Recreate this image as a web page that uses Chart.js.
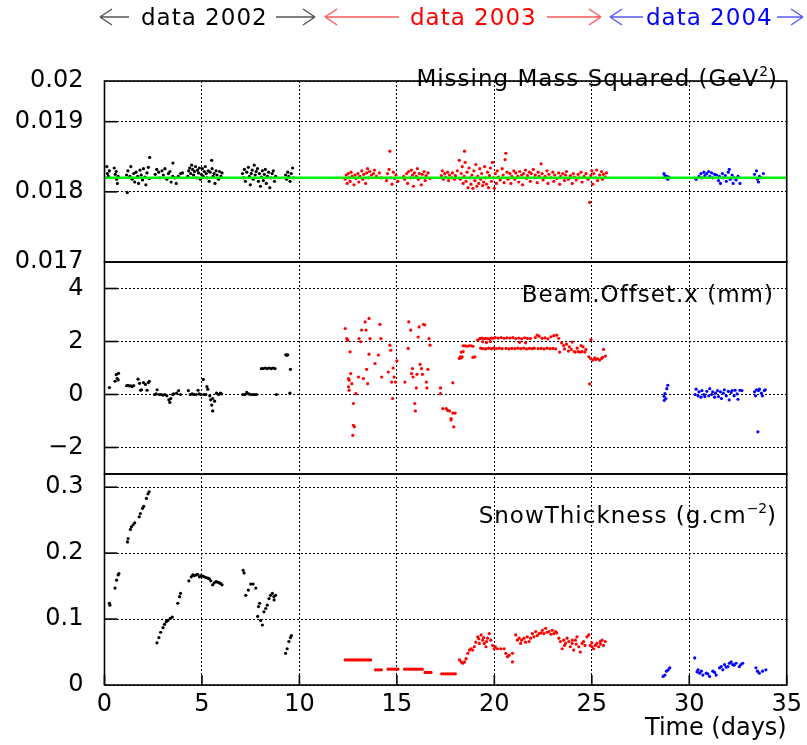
<!DOCTYPE html>
<html><head><meta charset="utf-8">
<script src="https://cdn.jsdelivr.net/npm/chart.js@4/dist/chart.umd.min.js"></script>
<style>
html,body{margin:0;padding:0;background:#fff;}
#wrap{position:relative;width:807px;height:745px;overflow:hidden;font-family:"DejaVu Sans",sans-serif;background:#fff;}
canvas{position:absolute;left:0;top:0;}
svg{position:absolute;left:0;top:0;}
.t{position:absolute;font-size:23px;letter-spacing:1px;line-height:28px;white-space:nowrap;}
.r{text-align:right;}
sup{font-size:0.6em;line-height:0;vertical-align:0.75em;letter-spacing:0;}
</style></head><body>
<div id="wrap">
<canvas id="c" width="807" height="745"></canvas>
<svg width="807" height="40">
  <g fill="none" stroke-width="1.5">
    <g stroke="#555"><path d="M100 17 H129 M100 17 L112 9 M100 17 L112 25"/><path d="M276 17 H315 M315 17 L303 9 M315 17 L303 25"/></g>
    <g stroke="#ff5a5a"><path d="M325 17 H399 M325 17 L337 9 M325 17 L337 25"/><path d="M547 17 H601 M601 17 L589 9 M601 17 L589 25"/></g>
    <g stroke="#5a5aff"><path d="M610 17 H643 M610 17 L622 9 M610 17 L622 25"/><path d="M777 17 H803 M803 17 L791 9 M803 17 L791 25"/></g>
  </g>
</svg>
<div class="t" style="left:141px;top:3px;color:#000">data 2002</div>
<div class="t" style="left:410px;top:3px;color:#f00">data 2003</div>
<div class="t" style="left:646px;top:3px;color:#00f">data 2004</div>
<div class="t r" style="right:29px;top:64px;color:#000">Missing Mass Squared (GeV<sup>2</sup>)</div>
<div class="t r" style="right:33px;top:280px;color:#000">Beam.Offset.x (mm)</div>
<div class="t r" style="right:30px;top:501px;color:#000">SnowThickness (g.cm<sup>−2</sup>)</div>
</div>
<script>
// ---------- data ----------
const xTicks = [0,5,10,15,20,25,30,35];
const mmTicks = [0.017,0.018,0.019,0.01958];
const mmTickLabels = ['0.017','0.018','0.019','0.02'];
const boTicks = [-2,0,2,4];
const boTickLabels = ['\u22122','0','2','4'];
const snTicks = [0,0.1,0.2,0.3];
const snTickLabels = ['0','0.1','0.2','0.3'];
const mmReference = 0.0182;

// Missing mass squared [day, GeV^2]
const mm2002 = [
[0.12,0.01836],[0.15,0.01826],[0.2,0.01822],[0.25,0.01830],[0.5,0.01834],[0.55,0.01825],[0.6,0.01829],[0.62,0.01818],[0.66,0.01812],[0.7,0.01822],
[1.17,0.01799],
[1.13,0.01824],[1.2,0.01830],[1.3,0.01822],[1.35,0.01836],[1.42,0.01818],[1.5,0.01826],[1.55,0.01814],[1.62,0.01828],[1.7,0.01822],[1.75,0.01812],[1.82,0.01831],[1.88,0.01824],[1.95,0.01817],[2.0,0.01833],[2.08,0.01821],[2.12,0.01810],[2.18,0.01827],[2.25,0.01835],[2.32,0.01849],[2.3,0.01819],
[2.6,0.01825],[2.68,0.01832],[2.78,0.01828],[2.85,0.01820],[2.95,0.01830],[3.02,0.01824],[3.1,0.01833],[3.2,0.01818],[3.28,0.01826],[3.36,0.01829],[3.42,0.01814],[3.5,0.01822],[3.51,0.01841],[3.6,0.01820],[3.68,0.01812],[3.78,0.01822],[3.9,0.01826],[4.0,0.01827],
[4.27,0.01822],[4.32,0.01830],[4.37,0.01834],[4.42,0.01826],[4.47,0.01838],[4.52,0.01832],[4.57,0.01824],[4.62,0.01829],[4.67,0.01836],[4.72,0.01820],[4.77,0.01831],[4.82,0.01827],[4.87,0.01834],[4.92,0.01818],[4.97,0.01825],[5.02,0.01833],[5.07,0.01822],[5.12,0.01829],[5.17,0.01836],[5.22,0.01826],[5.27,0.01820],[5.32,0.01830],[5.37,0.01815],[5.42,0.01828],[5.5,0.01845],[5.52,0.01833],[5.57,0.01822],[5.62,0.01826],[5.67,0.01812],[5.72,0.01830],[5.77,0.01824],[5.85,0.01818],[5.9,0.01829],[5.97,0.01822],[6.03,0.01827],
[7.08,0.01826],[7.13,0.01820],[7.18,0.01832],[7.23,0.01815],[7.3,0.01828],[7.38,0.01835],[7.43,0.01822],[7.48,0.01810],[7.53,0.01826],[7.58,0.01831],[7.63,0.01818],[7.68,0.01838],[7.73,0.01824],[7.78,0.01829],[7.85,0.01833],[7.9,0.01815],[7.95,0.01826],[8.0,0.01808],[8.05,0.01821],[8.1,0.01830],[8.15,0.01816],[8.2,0.01825],[8.25,0.01832],[8.3,0.01812],[8.36,0.01822],[8.42,0.01828],[8.48,0.01806],[8.54,0.01820],[8.6,0.01826],[8.66,0.01830],[8.72,0.01815],[8.78,0.01822],
[9.29,0.01824],[9.34,0.01818],[9.4,0.01828],[9.45,0.01822],[9.52,0.01815],[9.58,0.01826],[9.65,0.01834],[9.71,0.01820]
];
const mm2003 = [
[12.35,0.01818],[12.4,0.01824],[12.45,0.01812],[12.5,0.01826],[12.55,0.01820],[12.6,0.01815],[12.65,0.01828],[12.7,0.01822],[12.8,0.01810],[12.85,0.01824],[12.9,0.01819],[13.0,0.01826],[13.05,0.01814],[13.1,0.01822],[13.2,0.01830],[13.25,0.01818],[13.3,0.01825],[13.4,0.01812],[13.45,0.01827],[13.5,0.01833],[13.55,0.01820],[13.6,0.01829],[13.7,0.01824],[13.8,0.01826],[13.85,0.01831],[13.95,0.01822],[14.1,0.01827],[14.2,0.01820],
[14.47,0.01816],[14.52,0.01826],[14.64,0.01858],[14.6,0.01832],[14.68,0.01820],[14.75,0.01811],[14.82,0.01828],[14.88,0.01819],[14.95,0.01824],[15.05,0.01815],
[15.35,0.01822],[15.4,0.01818],[15.5,0.01826],[15.55,0.01812],[15.6,0.01829],[15.7,0.01820],[15.75,0.01831],[15.8,0.01824],[15.85,0.01808],[15.9,0.01827],[16.0,0.01822],[16.05,0.01833],[16.1,0.01818],[16.15,0.01826],[16.25,0.01810],[16.3,0.01825],[16.4,0.01829],[16.45,0.01816],[16.5,0.01823],[16.6,0.01827],[16.7,0.01819],
[17.28,0.01823],[17.33,0.01830],[17.38,0.01818],[17.45,0.01826],[17.5,0.01821],[17.6,0.01828],[17.65,0.01816],[17.7,0.01824],[17.8,0.01820],[17.85,0.01827],[17.95,0.01818],[18.0,0.01823],
[18.1,0.01830],[18.2,0.01845],[18.25,0.01818],[18.3,0.01826],[18.35,0.01836],[18.4,0.01812],[18.45,0.01822],[18.47,0.01858],[18.5,0.01842],[18.55,0.01815],[18.6,0.01828],[18.65,0.01806],[18.7,0.01834],[18.75,0.01820],[18.8,0.01811],[18.85,0.01824],[18.9,0.01805],[18.95,0.01830],[19.0,0.01816],[19.05,0.01839],[19.1,0.01808],[19.15,0.01822],[19.2,0.01812],[19.25,0.01833],[19.3,0.01818],[19.35,0.01826],[19.4,0.01809],[19.45,0.01814],[19.5,0.01836],[19.55,0.01820],[19.6,0.01811],[19.65,0.01828],[19.7,0.01806],[19.75,0.01823],[19.8,0.01834],[19.85,0.01815],[19.9,0.01842],[19.95,0.01820],[20.0,0.01805],[20.05,0.01826],[20.1,0.01812],[20.15,0.01830],[20.2,0.01821],[20.3,0.01817],[20.4,0.01833],[20.45,0.01824],[20.5,0.01813],[20.59,0.01855],[20.55,0.01846],[20.65,0.01828],[20.7,0.01818],[20.8,0.01826],[20.85,0.01812],[20.9,0.01822],[21.0,0.01830],
[21.05,0.01818],[21.1,0.01827],[21.2,0.01822],[21.25,0.01814],[21.3,0.01829],[21.4,0.01824],[21.45,0.01810],[21.5,0.01826],[21.6,0.01831],[21.65,0.01819],[21.7,0.01823],[21.8,0.01828],[21.85,0.01815],[21.9,0.01826],[22.0,0.01832],[22.05,0.01820],[22.1,0.01824],[22.2,0.01813],[22.25,0.01828],[22.3,0.01822],[22.4,0.01840],[22.45,0.01826],[22.5,0.01817],[22.6,0.01822],[22.7,0.01830],[22.75,0.01812],[22.8,0.01825],[22.9,0.01820],[23.0,0.01828],[23.05,0.01815],[23.1,0.01824],[23.2,0.01819],[23.3,0.01827],[23.35,0.01811],[23.4,0.01822],[23.5,0.01826],[23.6,0.01816],[23.65,0.01824],[23.7,0.01829],[23.8,0.01818],[23.9,0.01823],[24.0,0.01812],[24.05,0.01826],[24.1,0.01821],[24.2,0.01817],[24.3,0.01825],[24.35,0.01820],[24.45,0.01828],[24.5,0.01814],[24.6,0.01822],[24.7,0.01826],[24.8,0.01818],[24.89,0.01785],[24.95,0.01823],[25.0,0.01830],[25.05,0.01811],[25.1,0.01826],[25.2,0.01820],[25.25,0.01831],[25.3,0.01816],[25.4,0.01824],[25.5,0.01829],[25.55,0.01818],[25.6,0.01825],[25.7,0.01821],[25.75,0.01827]
];
const mm2004 = [
[28.7,0.01826],[28.75,0.01823],[28.8,0.01820],[28.85,0.01822],[28.9,0.01818],[28.95,0.01821],
[30.35,0.01818],[30.5,0.01822],[30.6,0.01826],[30.65,0.01820],[30.75,0.01828],[30.8,0.01823],[30.9,0.01826],[31.0,0.01829],[31.05,0.01822],[31.15,0.01827],[31.2,0.01820],[31.3,0.01825],[31.4,0.01824],[31.5,0.01816],[31.55,0.01822],[31.6,0.01812],[31.7,0.01826],[31.75,0.01820],[31.85,0.01823],[31.9,0.01815],[32.0,0.01828],[32.05,0.01832],[32.1,0.01818],[32.2,0.01824],[32.25,0.01812],[32.3,0.01820],[32.4,0.01817],[32.5,0.01822],[32.6,0.01812],
[33.35,0.01825],[33.45,0.01830],[33.5,0.01818],[33.55,0.01814],[33.6,0.01822],[33.7,0.01820],[33.8,0.01826]
];

// Beam offset x [day, mm]
const bo2002 = [
[0.25,0.26],[0.54,0.5],[0.6,0.75],[0.65,0.6],[0.72,0.8],[0.7,0.55],
[1.13,0.33],[1.2,0.35],[1.28,0.32],[1.35,0.33],[1.42,0.3],[1.5,0.34],
[1.72,0.58],[1.8,0.42],[1.85,0.16],[1.9,0.18],[2.0,0.45],[2.1,0.38],[2.18,0.16],[2.25,0.45],[2.3,0.5],
[2.57,0.0],[2.65,0.02],[2.7,0.18],[2.8,0.0],[2.9,0.0],[3.0,-0.02],[3.1,0.0],[3.2,-0.05],[3.3,-0.2],[3.35,-0.3],[3.4,-0.15],[3.5,0.0],[3.55,0.02],
[3.7,0.05],[3.8,0.15],[3.9,0.0],
[4.3,0.15],[4.4,0.0],[4.5,0.02],[4.6,0.0],[4.7,0.0],[4.8,0.16],[4.85,0.02],[4.95,0.0],[5.07,0.57],[5.1,0.0],[5.2,0.0],
[5.25,0.3],[5.3,0.2],[5.4,-0.05],[5.45,-0.2],[5.5,-0.4],[5.55,-0.15],[5.55,-0.62],[5.65,-0.25],[5.75,0.05],[5.85,0.0],[5.95,0.05],[6.0,0.02],
[7.1,0.0],[7.2,0.0],[7.3,0.08],[7.4,0.02],[7.5,0.0],[7.6,0.0],[7.7,0.0],[7.8,0.0],
[8.05,0.98],[8.15,0.98],[8.25,1.0],[8.35,0.98],[8.45,1.0],[8.55,0.98],[8.65,1.0],[8.75,0.98],
[8.82,0.0],[9.3,1.5],[9.35,1.48],[9.4,1.5],[9.54,0.95],[9.51,0.05]
];
const bo2003 = [
[12.35,2.49],[12.43,2.11],[12.48,2.05],[12.52,0.6],[12.55,0.54],[12.6,1.61],[12.63,0.79],[12.52,0.29],[12.55,0.16],[12.69,0.41],[12.77,-0.34],[12.77,-1.16],[12.82,-1.22],[12.74,-1.54],[12.89,0.03],
[13.03,0.66],[13.06,2.11],[13.14,1.99],[13.19,2.43],[13.28,0.6],[13.37,2.74],[13.42,2.43],[13.45,0.95],[13.5,0.41],[13.57,2.87],[13.62,2.11],[13.57,1.52],[13.88,1.17],[14.05,1.49],[14.13,2.65],[14.18,2.11],[14.22,0.66],
[14.56,0.85],[14.64,1.86],[14.69,1.67],[14.73,0.47],[14.78,-0.15],[14.81,1.0],[14.86,0.66],[14.93,0.47],[15.0,1.27],
[15.41,0.47],[15.58,1.74],[15.61,2.74],[15.71,2.43],[15.75,0.79],[15.8,0.98],[15.83,0.66],[15.92,-0.34],[15.95,-0.62],[16.0,0.25],[16.03,0.76],[16.09,2.17],[16.14,2.55],[16.19,1.14],[16.26,0.98],[16.31,0.76],[16.36,2.65],[16.43,2.63],[16.51,0.47],[16.54,0.25],[16.59,0.95],[16.65,2.11],[16.7,1.86],
[17.24,0.25],[17.24,0.03],[17.36,-0.53],[17.53,-0.53],[17.61,-0.6],[17.7,-0.62],[17.78,-0.96],[17.92,-1.22],[17.99,-0.7],[17.78,-0.91],[17.87,-0.7],[17.87,0.44],
[18.2,1.36],[18.25,1.42],[18.3,1.38],[18.35,1.42],[18.3,1.6],[18.4,1.62],
[18.4,1.84],[18.5,1.84],[18.6,1.82],[18.7,1.84],[18.8,1.84],[18.9,1.82],[18.9,1.4],[19.0,1.42],
[19.15,2.05],[19.25,2.11],[19.35,2.13],[19.45,2.1],[19.55,2.12],[19.65,2.11],[19.75,2.1],[19.85,2.13],[19.95,2.12],
[19.3,1.75],[19.4,1.73],[19.55,1.72],[19.7,1.75],[19.85,1.73],[19.95,1.75],[19.4,1.99],[19.6,1.96],[19.8,2.0],
[20.05,2.15],[20.2,2.13],[20.35,2.15],[20.5,2.12],[20.65,2.14],[20.8,2.13],[20.95,2.15],
[20.1,1.73],[20.25,1.75],[20.4,1.73],[20.6,1.74],[20.75,1.72],[20.9,1.74],
[21.1,2.11],[21.25,2.13],[21.4,2.1],[21.55,2.14],[21.7,2.12],[21.85,2.11],
[21.05,1.73],[21.2,1.75],[21.35,1.73],[21.5,1.75],[21.65,1.72],[21.8,1.74],[21.95,1.73],[21.3,1.97],[21.6,1.95],
[22.1,2.15],[22.2,2.24],[22.3,2.2],[22.45,2.12],[22.6,2.14],[22.75,2.1],[22.9,2.18],[23.05,2.22],[23.2,2.24],[23.3,2.12],
[22.05,1.75],[22.25,1.73],[22.4,1.74],[22.55,1.72],[22.7,1.75],[22.85,1.73],[23.0,1.74],[23.15,1.72],[23.35,1.6],
[23.45,1.95],[23.55,1.85],[23.6,1.72],[23.7,1.9],[23.8,1.64],[23.85,1.8],[23.95,1.7],[24.0,1.98],[24.1,1.62],[24.15,1.6],[24.25,1.75],[24.3,1.62],[24.4,1.6],[24.45,1.85],[24.5,1.62],[24.55,1.8],[24.65,1.6],[24.7,1.7],
[24.89,0.4],[24.96,2.07],
[24.85,1.42],[24.95,1.35],[25.05,1.3],[25.15,1.38],[25.2,1.32],[25.3,1.35],[25.4,1.3],[25.5,1.36],[25.55,1.4],[25.6,1.7],[25.7,1.45]
];
const bo2004 = [
[28.7,-0.07],[28.72,-0.22],[28.75,0.03],[28.8,-0.15],[28.85,0.22],[28.9,0.35],
[30.3,0.0],[30.35,0.2],[30.45,-0.05],[30.5,0.1],[30.6,-0.1],[30.65,0.15],[30.75,0.0],[30.8,-0.08],[30.9,0.12],[31.0,-0.05],[31.05,0.22],[31.15,0.0],[31.2,0.1],[31.3,-0.1],[31.35,0.05],[31.45,0.15],[31.5,-0.08],[31.6,0.1],[31.65,-0.15],[31.75,0.05],[31.8,0.18],[31.9,-0.05],[32.0,0.12],[32.05,-0.2],[32.15,0.08],[32.2,0.15],[32.3,-0.05],[32.35,0.16],[32.45,0.02],[32.5,-0.18],[32.6,0.16],[32.7,0.15],
[33.35,0.1],[33.4,-0.05],[33.45,0.18],[33.52,-1.41],[33.55,0.15],[33.6,0.2],[33.7,0.05],[33.75,-0.05],[33.85,0.15],[33.9,0.18]
];

// Snow thickness [day, g/cm^2]
const sn2002 = [
[0.25,0.124],[0.28,0.121],
[0.54,0.147],[0.62,0.159],[0.7,0.167],[0.74,0.169],
[1.18,0.217],[1.21,0.222],[1.33,0.236],[1.38,0.24],[1.47,0.243],[1.55,0.246],[1.78,0.255],[1.84,0.26],[1.95,0.268],[2.01,0.271],[2.15,0.283],[2.23,0.29],[2.29,0.293],
[2.69,0.064],[2.79,0.072],[2.88,0.08],[3.0,0.087],[3.08,0.092],[3.17,0.096],[3.25,0.098],[3.37,0.101],[3.48,0.103],
[3.76,0.124],[3.85,0.134],[3.9,0.139],
[4.33,0.158],[4.45,0.164],[4.53,0.167],[4.6,0.166],[4.7,0.167],[4.78,0.168],[4.87,0.164],[4.95,0.166],[5.04,0.165],[5.12,0.164],[5.21,0.163],[5.3,0.162],[5.38,0.161],[5.45,0.158],
[5.55,0.152],[5.63,0.155],[5.72,0.157],[5.8,0.156],[5.89,0.155],[5.95,0.154],[6.03,0.152],
[7.11,0.174],[7.16,0.17],[7.25,0.136],[7.38,0.144],[7.5,0.153],[7.62,0.153],[7.76,0.147],
[7.86,0.104],[7.9,0.119],[7.96,0.124],[8.01,0.098],[8.1,0.091],[8.18,0.111],[8.27,0.116],[8.35,0.121],[8.44,0.131],[8.52,0.136],[8.61,0.139],[8.69,0.134],[8.78,0.136],[8.7,0.129],
[9.29,0.048],[9.37,0.055],[9.46,0.066],[9.54,0.072],[9.59,0.075]
];
const sn2003 = [
[12.35,0.038],[12.45,0.038],[12.55,0.038],[12.65,0.038],[12.75,0.038],[12.85,0.038],[12.95,0.038],[13.05,0.038],[13.15,0.038],[13.25,0.038],[13.35,0.038],[13.45,0.038],[13.55,0.038],[13.65,0.038],
[13.9,0.023],[14.0,0.023],[14.1,0.023],[14.2,0.023],
[14.55,0.024],[14.65,0.024],[14.75,0.024],[14.85,0.024],[14.95,0.024],[15.05,0.024],
[15.4,0.024],[15.5,0.024],[15.6,0.024],[15.7,0.024],[15.8,0.024],[15.9,0.024],[16.0,0.024],[16.1,0.024],[16.2,0.024],[16.3,0.024],
[16.45,0.019],[16.55,0.019],[16.65,0.019],[16.75,0.019],
[17.3,0.017],[17.4,0.017],[17.5,0.017],[17.6,0.017],[17.7,0.017],[17.8,0.017],[17.9,0.017],[18.0,0.017],
[18.21,0.038],[18.3,0.035],[18.38,0.033],[18.47,0.035],[18.55,0.04],[18.64,0.048],[18.72,0.053],[18.8,0.055],[18.89,0.053],[18.97,0.058],[19.05,0.065],[19.15,0.073],[19.2,0.07],[19.23,0.063],[19.32,0.076],[19.4,0.068],[19.45,0.072],[19.48,0.063],[19.57,0.058],[19.6,0.066],[19.65,0.071],[19.74,0.078],[19.82,0.068],[19.91,0.06],[19.99,0.055],[20.05,0.058],
[20.16,0.055],[20.33,0.055],[20.5,0.055],[20.59,0.048],[20.67,0.043],[20.76,0.045],[20.93,0.035],[20.93,0.048],
[21.1,0.076],[21.18,0.068],[21.27,0.071],[21.35,0.063],[21.4,0.068],[21.52,0.071],[21.6,0.065],[21.69,0.073],[21.78,0.066],[21.86,0.071],[21.95,0.078],[22.03,0.073],[22.12,0.081],[22.2,0.075],[22.29,0.078],[22.4,0.079],[22.46,0.083],[22.54,0.078],[22.63,0.086],[22.7,0.08],[22.8,0.081],[22.9,0.077],[22.97,0.083],[23.05,0.078],[23.14,0.081],[23.2,0.079],[23.31,0.071],[23.39,0.066],[23.48,0.055],[23.56,0.068],[23.6,0.06],[23.65,0.063],[23.73,0.071],[23.82,0.066],[23.9,0.058],[23.99,0.063],[24.0,0.068],[24.07,0.053],[24.16,0.068],[24.2,0.062],[24.24,0.073],[24.33,0.058],[24.41,0.05],[24.5,0.063],[24.58,0.066],[24.65,0.06],[24.75,0.073],[24.84,0.076],[24.92,0.06],[25.0,0.064],[25.01,0.058],[25.09,0.055],[25.18,0.06],[25.26,0.063],[25.35,0.058],[25.43,0.066],[25.45,0.062],[25.52,0.068],[25.6,0.06],[25.69,0.066]
];
const sn2004 = [
[28.66,0.013],[28.75,0.015],[28.83,0.021],[28.92,0.023],[29.0,0.026],
[30.28,0.041],[30.4,0.02],[30.45,0.023],[30.53,0.018],[30.62,0.021],[30.7,0.015],[30.87,0.018],[30.95,0.017],[31.04,0.013],[31.21,0.021],[31.3,0.019],[31.38,0.015],[31.55,0.026],[31.64,0.028],[31.72,0.023],[31.81,0.031],[31.9,0.027],[31.98,0.028],[32.06,0.033],[32.15,0.035],[32.23,0.031],[32.3,0.03],[32.4,0.033],[32.57,0.028],[32.65,0.031],[32.74,0.033],
[33.42,0.026],[33.5,0.021],[33.59,0.018],[33.76,0.021],[33.93,0.023]
];

// ---------- chart ----------
Chart.defaults.font.family = '"DejaVu Sans", sans-serif';
const toPts = arr => arr.map(p => ({x: p[0], y: p[1]}));
function scatterSet(arr, color, axis) {
  return {type:'scatter', data: toPts(arr), yAxisID: axis, backgroundColor: color, borderColor: color,
          pointRadius: 1.6, pointBorderWidth: 0, pointHoverRadius: 0, order: 0};
}
const tickFont = {family:'"DejaVu Sans", sans-serif', size: 24};
const gridOpts = {color:'#000', lineWidth: 1, drawTicks: false};
const borderOpts = {display: false, dash: [2, 2]};
function yScale(min, max, ticks, labels, weight, stackWeight) {
  return {
    type:'linear', position:'left', stack:'panels', stackWeight, weight, min, max,
    afterBuildTicks: s => { s.ticks = ticks.map(v => ({value: v})); },
    afterFit: s => { s.width = 104.5; },
    ticks: {font: tickFont, color:'#000', padding: 21, callback: (v, i) => labels[i]},
    grid: gridOpts, border: borderOpts
  };
}
const framePlugin = {
  id: 'frames',
  afterDraw(chart) {
    const {ctx, chartArea: a, scales} = chart;
    ctx.save();
    ctx.setLineDash([]);
    ctx.strokeStyle = '#000';
    ctx.lineWidth = 1.6;
    ['yMM','yBO','ySN'].forEach(id => {
      const s = scales[id];
      ctx.strokeRect(a.left, s.top, a.right - a.left, s.bottom - s.top);
      s.ticks.forEach(t => {
        const y = s.getPixelForValue(t.value);
        if (y > s.top + 2 && y < s.bottom - 2) {
          ctx.beginPath(); ctx.moveTo(a.left, y); ctx.lineTo(a.left + 13, y); ctx.stroke();
        }
      });
    });
    const sx = scales.x;
    sx.ticks.forEach(t => {
      const x = sx.getPixelForValue(t.value);
      ctx.beginPath(); ctx.moveTo(x, a.bottom); ctx.lineTo(x, a.bottom - 10); ctx.stroke();
    });
    ctx.restore();
  }
};

new Chart(document.getElementById('c'), {
  type: 'scatter',
  data: {
    datasets: [
      {type:'line', data: [{x: 0, y: mmReference}, {x: 35, y: mmReference}], yAxisID:'yMM',
       borderColor:'#00f000', borderWidth: 2.5, pointRadius: 0, order: -1},
      scatterSet(mm2002, '#000', 'yMM'),
      scatterSet(mm2003, '#ff0000', 'yMM'),
      scatterSet(mm2004, '#0000ff', 'yMM'),
      scatterSet(bo2002, '#000', 'yBO'),
      scatterSet(bo2003, '#ff0000', 'yBO'),
      scatterSet(bo2004, '#0000ff', 'yBO'),
      scatterSet(sn2002, '#000', 'ySN'),
      scatterSet(sn2003, '#ff0000', 'ySN'),
      scatterSet(sn2004, '#0000ff', 'ySN')
    ]
  },
  options: {
    responsive: false, animation: false, events: [],
    layout: {padding: {top: 81, right: 16, left: 0, bottom: 0}},
    plugins: {legend: {display: false}, tooltip: {enabled: false}},
    scales: {
      x: {
        type:'linear', position:'bottom', min: 0, max: 35,
        afterBuildTicks: s => { s.ticks = xTicks.map(v => ({value: v})); },
        afterFit: s => { s.height = 60; },
        ticks: {font: tickFont, color:'#000', padding: 5, autoSkip: false, maxRotation: 0},
        grid: gridOpts, border: borderOpts,
        title: {display: true, text: 'Time (days)', align: 'end', color:'#000', font: tickFont, padding: {top: 0, bottom: 2}}
      },
      yMM: yScale(0.017, 0.01958, mmTicks, mmTickLabels, 3, 181),
      yBO: yScale(-3, 5, boTicks, boTickLabels, 2, 212),
      ySN: yScale(0, 0.32, snTicks, snTickLabels, 1, 211)
    }
  },
  plugins: [framePlugin]
});
</script>
</body></html>
